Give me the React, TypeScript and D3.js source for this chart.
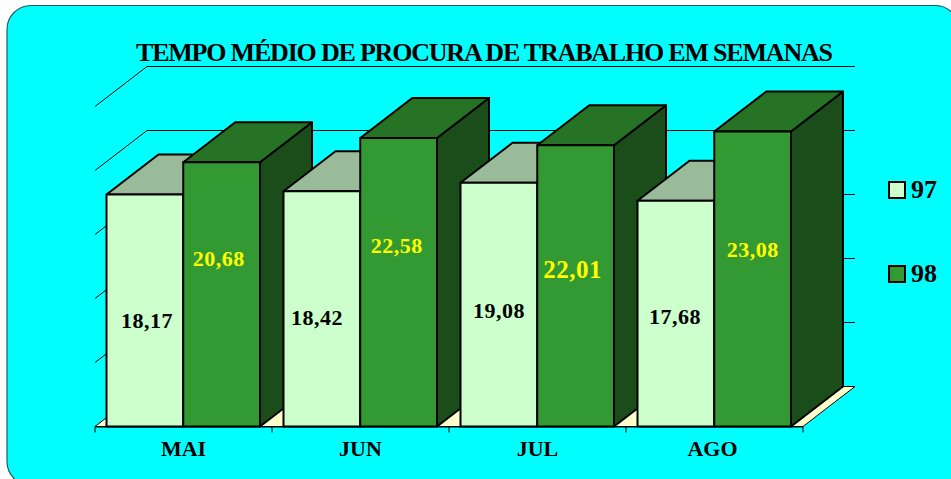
import React from "react";
import * as d3 from "d3";

const months = ["MAI", "JUN", "JUL", "AGO"];
const seriesNames = ["97", "98"];
const values97 = [18.17, 18.42, 19.08, 17.68];
const values98 = [20.68, 22.58, 22.01, 23.08];
const gridTicks = [0, 5, 10, 15, 20, 25];

// Hand-placed label nudges of the original (px from the bar's front-face centre)
const labelShift97 = [{ dx: 2, dy: 11 }, { dx: -5, dy: 9 }, { dx: 0, dy: 7 }, { dx: -1, dy: 4 }];
const labelShift98 = [{ dx: -3, dy: -35 }, { dx: -2, dy: -36 }, { dx: -3, dy: -16 }, { dx: 0, dy: -29 }];
const labelSize98 = [22, 22, 25, 22];
const monthShift = [0, 0, 0, -2];

const W = 951, H = 479;
const DX = 52, DY = -40;
const FONT = "'Liberation Serif', serif";
const fmt = (v: number) => v.toFixed(2).replace(".", ",");

const palette: Record<string, { front: string; top: string; side: string }> = {
  "97": { front: "#CCFFCC", top: "#99BB99", side: "#668866" },
  "98": { front: "#339933", top: "#267326", side: "#1B4D1B" },
};

const x0 = d3.scaleBand<string>().domain(months).range([95, 803]);
const x1 = d3.scaleBand<string>().domain(seriesNames).range([11.5, 165]);
const y = d3.scaleLinear().domain([0, 25]).range([426.5, 106.5]);

function Bar({ x, w, val, c }: { x: number; w: number; val: number; c: { front: string; top: string; side: string } }) {
  const t = y(val) + 0.5, b = y(0), r = x + w;
  const line = d3.line();
  const poly = (p: [number, number][]) => line(p) + "Z";
  const common = { stroke: "#000", strokeWidth: 2, strokeLinejoin: "round" as const };
  return (
    <g>
      <path d={poly([[r, t], [r + DX, t + DY], [r + DX, b + DY], [r, b]])} fill={c.side} {...common} />
      <path d={poly([[x, t], [x + DX, t + DY], [r + DX, t + DY], [r, t]])} fill={c.top} {...common} />
      <rect x={x} y={t} width={w} height={b - t} fill={c.front} {...common} />
    </g>
  );
}

export default function App() {
  const [L, R] = x0.range();
  const bw = x1.bandwidth();
  const series = [
    { name: "97", vals: values97, shift: labelShift97, color: "#000" },
    { name: "98", vals: values98, shift: labelShift98, color: "#FFFF00" },
  ];
  return (
    <svg width={W} height={H} viewBox={`0 0 ${W} ${H}`}
      style={{ position: "fixed", left: 0, top: 0, display: "block", background: "#fff" }}>
      <rect x={7} y={5.5} width={952} height={480} rx={24} ry={24} fill="#00FFFF" stroke="#1f5f5f" strokeWidth={1.2} />

      <text x={484.5} y={60.5} textAnchor="middle" fontFamily={FONT} fontWeight="bold" fontSize={26}
        textLength={697} lengthAdjust="spacing" fill="#000">TEMPO MÉDIO DE PROCURA DE TRABALHO EM SEMANAS</text>

      {/* floor */}
      <path d={`M${L},${y(0)}L${L + DX},${y(0) + DY}L${R + DX},${y(0) + DY}L${R},${y(0)}Z`}
        fill="#FFFFCC" stroke="#000" strokeWidth={1} />

      {/* walls' grid lines */}
      {gridTicks.slice(1).map((t) => (
        <path key={t} fill="none" stroke="#000" strokeWidth={1}
          d={`M${L},${y(t)}L${L + DX},${y(t) + DY}L${R + DX},${y(t) + DY}`} />
      ))}

      {/* axis baseline and ticks */}
      <line x1={L} x2={R} y1={y(0) + 0.5} y2={y(0) + 0.5} stroke="#000" strokeWidth={1} />
      {[...months.map((m) => x0(m)!), R].map((xx, i) => (
        <line key={i} x1={xx} x2={xx} y1={y(0)} y2={y(0) + 6} stroke="#000" strokeWidth={1} />
      ))}

      {/* bars */}
      {months.map((m, i) =>
        series.map((s) => (
          <Bar key={m + s.name} x={x0(m)! + x1(s.name)!} w={bw} val={s.vals[i]} c={palette[s.name]} />
        ))
      )}

      {/* value labels */}
      {months.map((m, i) =>
        series.map((s) => {
          const v = s.vals[i];
          const cx = x0(m)! + x1(s.name)! + bw / 2 + s.shift[i].dx;
          const cy = (y(v) + y(0)) / 2 + s.shift[i].dy;
          return (
            <text key={m + s.name} x={cx} y={cy} dy="0.32em" textAnchor="middle" fontFamily={FONT}
              fontWeight="bold" fontSize={s.name === "98" ? labelSize98[i] : 22} letterSpacing={0.5} fill={s.color}>{fmt(v)}</text>
          );
        })
      )}

      {/* category labels */}
      {months.map((m, i) => (
        <text key={m} x={x0(m)! + x0.bandwidth() / 2 + monthShift[i]} y={456} textAnchor="middle" fontFamily={FONT}
          fontWeight="bold" fontSize={22} fill="#000">{m}</text>
      ))}

      {/* legend */}
      {seriesNames.map((n, i) => (
        <g key={n} transform={`translate(889,${182 + i * 84})`}>
          <rect x={0} y={0} width={16} height={16} fill={palette[n].front} stroke="#000" strokeWidth={2} />
          <text x={22} y={16} fontFamily={FONT} fontWeight="bold" fontSize={26} fill="#000">{n}</text>
        </g>
      ))}
    </svg>
  );
}
